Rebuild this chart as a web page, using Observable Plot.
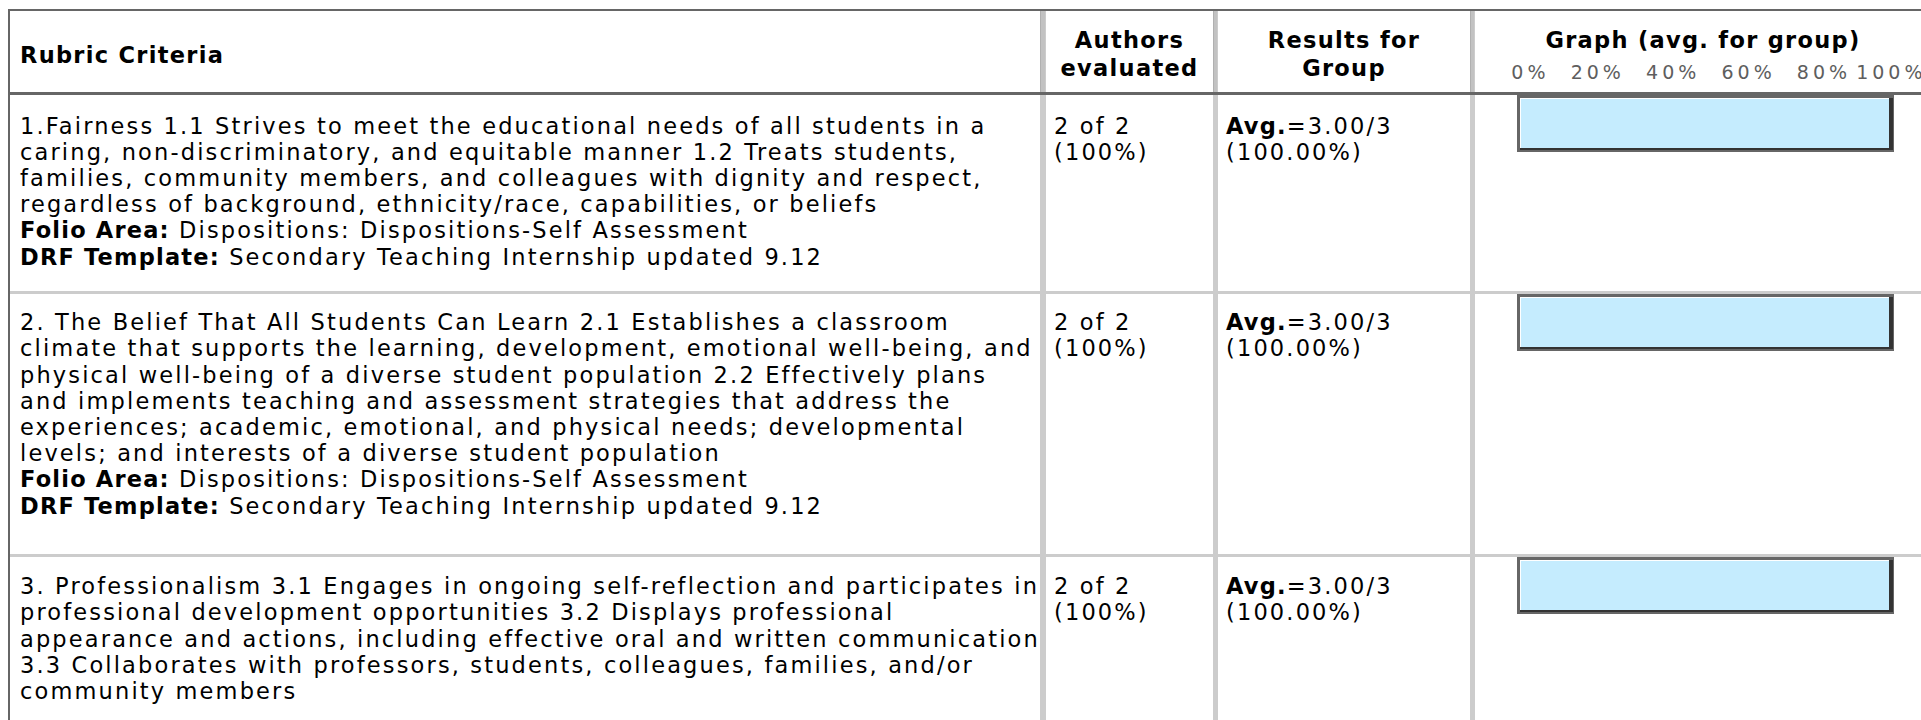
<!DOCTYPE html>
<html><head><meta charset="utf-8">
<script src="https://cdn.jsdelivr.net/npm/d3@7"></script>
<script src="https://cdn.jsdelivr.net/npm/@observablehq/plot@0.6"></script>
<style>
html,body{margin:0;padding:0;background:#fff;}
#page{position:relative;width:1921px;height:720px;overflow:hidden;font-family:"DejaVu Sans",Verdana,sans-serif;color:#000;}
.ln{position:absolute;}
.txt{position:absolute;font-size:22.5px;line-height:26.2px;letter-spacing:2.15px;white-space:nowrap;overflow:visible;}
.txt b{letter-spacing:1.2px;}
.hdr{position:absolute;font-weight:bold;font-size:22.5px;line-height:28px;letter-spacing:1.3px;white-space:nowrap;}
.ctr{text-align:center;}
svg{position:absolute;}
</style></head><body><div id="page"></div>
<script>
// ---- data ----
const headers = [["Rubric Criteria"], ["Authors", "evaluated"], ["Results for", "Group"], ["Graph (avg. for group)"]];
const criteriaLines = [
  ["1.Fairness 1.1 Strives to meet the educational needs of all students in a",
   "caring, non-discriminatory, and equitable manner 1.2 Treats students,",
   "families, community members, and colleagues with dignity and respect,",
   "regardless of background, ethnicity/race, capabilities, or beliefs"],
  ["2. The Belief That All Students Can Learn 2.1 Establishes a classroom",
   "climate that supports the learning, development, emotional well-being, and",
   "physical well-being of a diverse student population 2.2 Effectively plans",
   "and implements teaching and assessment strategies that address the",
   "experiences; academic, emotional, and physical needs; developmental",
   "levels; and interests of a diverse student population"],
  ["3. Professionalism 3.1 Engages in ongoing self-reflection and participates in",
   "professional development opportunities 3.2 Displays professional",
   "appearance and actions, including effective oral and written communication",
   "3.3 Collaborates with professors, students, colleagues, families, and/or",
   "community members"]
];
const folioArea = ["Dispositions: Dispositions-Self Assessment", "Dispositions: Dispositions-Self Assessment", null];
const drfTemplate = ["Secondary Teaching Internship updated 9.12", "Secondary Teaching Internship updated 9.12", null];
const authorsEvaluated = [2, 2, 2];
const authorsTotal = [2, 2, 2];
const avgScore = [3.00, 3.00, 3.00];
const maxScore = [3, 3, 3];
const tickValues = [0, 20, 40, 60, 80, 100];

// ---- layout ----
const page = document.getElementById("page");
const esc = s => s.replace(/&/g,"&amp;").replace(/</g,"&lt;");
function box(x, y, w, h, color) {
  const d = document.createElement("div");
  d.className = "ln"; Object.assign(d.style, {left:x+"px", top:y+"px", width:w+"px", height:h+"px", background:color});
  page.appendChild(d); return d;
}
function text(cls, x, y, w, html) {
  const d = document.createElement("div");
  d.className = cls; Object.assign(d.style, {left: x + "px", top: y + "px", width: w + "px"});
  d.innerHTML = html;
  page.appendChild(d); return d;
}
const LH = 26.2;
const BASE = (26.2 - 1.164 * 22.5) / 2 + 0.928 * 22.5;   // baseline offset inside a line box
const HBASE = (28 - 1.164 * 22.5) / 2 + 0.928 * 22.5;
// column dividers: [left, width]
const div1 = [1040, 6], div2 = [1213, 5], div3 = [1470, 5];
const colText = [20, 1054, 1226];
const gx0 = div3[0] + div3[1];
const gW = 1921 - gx0;
const rowGapAbove = [38.5, 36, 37];
const rowGapBelow = [26.5, 41, 28.5];
const hjoin = a => a.map(esc).join("<br>");

// headers
text("hdr", 20, 63 - HBASE, 1000, hjoin(headers[0]));
text("hdr ctr", div1[0] + div1[1], 48 - HBASE, div2[0] - div1[0] - div1[1], hjoin(headers[1]));
text("hdr ctr", div2[0] + div2[1], 48 - HBASE, div3[0] - div2[0] - div2[1], hjoin(headers[2]));
text("hdr ctr", 1703 - 200, 48 - HBASE, 400, hjoin(headers[3]));

// x scale shared by the tick header and the bars (graph column coordinates)
const xScale = {domain: [0, 100], range: [1517 - gx0, 1894 - gx0]};
const axisH = 22;
const axis = Plot.plot({
  width: gW, height: axisH, margin: 0,
  x: {...xScale, axis: null},
  style: {background: "transparent", overflow: "visible", fontFamily: "DejaVu Sans", fontSize: "19px", letterSpacing: "4px"},
  marks: [Plot.text(tickValues, {x: d => d, text: d => d + "%", frameAnchor: "bottom", lineAnchor: "bottom", textAnchor: "end", fill: "#5e5e5e", dx: 32})]
});
axis.style.left = gx0 + "px"; axis.style.top = (78 - axisH) + "px";
page.appendChild(axis);

// rows
let rowTop = 95;
const borders = [], bars = [];
criteriaLines.forEach((lines, i) => {
  const first = rowTop + rowGapAbove[i];
  const parts = lines.map(esc);
  if (folioArea[i]) parts.push("<b>Folio Area:</b> " + esc(folioArea[i]));
  if (drfTemplate[i]) parts.push("<b>DRF Template:</b> " + esc(drfTemplate[i]));
  const n = parts.length;
  text("txt", colText[0], first - BASE, div1[0] - colText[0] - 2, parts.join("<br>"));
  const pct = authorsEvaluated[i] / authorsTotal[i] * 100;
  text("txt", colText[1], first - BASE, div2[0] - colText[1] - 2, `${authorsEvaluated[i]} of ${authorsTotal[i]}<br>(${pct.toFixed(0)}%)`);
  const avgPct = avgScore[i] / maxScore[i] * 100;
  text("txt", colText[2], first - BASE, div3[0] - colText[2] - 2, `<b>Avg.</b>=${avgScore[i].toFixed(2)}/${maxScore[i]}<br>(${avgPct.toFixed(2)}%)`);

  const bar = Plot.plot({
    width: gW, height: 57, margin: 0,
    x: {...xScale, axis: null},
    style: {background: "transparent", overflow: "visible"},
    marks: [
      Plot.barX([avgPct], {x1: 0, x2: d => d, fill: "#666666"}),
      Plot.barX([avgPct], {x1: 0, x2: d => d, fill: "#333333", insetLeft: 3, insetTop: 3, insetRight: 1, insetBottom: 2}),
      Plot.barX([avgPct], {x1: 0, x2: d => d, fill: "#ffffff", insetLeft: 3, insetTop: 3, insetRight: 5, insetBottom: 4}),
      Plot.barX([avgPct], {x1: 0, x2: d => d, fill: "#c5ecfe", insetLeft: 4, insetTop: 4, insetRight: 5, insetBottom: 4})
    ]
  });
  bar.style.left = gx0 + "px"; bar.style.top = (rowTop) + "px";
  bars.push(bar);

  const borderTop = Math.round(first + (n - 1) * LH + rowGapBelow[i]);
  borders.push(borderTop);
  rowTop = borderTop + 3;
});

// rules: outer/top/header borders, row borders, dividers
box(8, 9, 1921, 2, "#666");
box(8, 9, 2, 720, "#666");
borders.forEach(b => box(10, b, 1921, 3, "#cccccc"));
[div1, div2, div3].forEach(([l, w]) => {
  box(l, 11, w, 720, "#cccccc");
  box(l, 11, 1, 81, "#b0b0b0");
  box(l + 1, 11, w - 2, 81, "#c2c2c2");
});
box(10, 92, 1921, 3, "#666");
bars.forEach(b => page.appendChild(b));
</script>
</body></html>
